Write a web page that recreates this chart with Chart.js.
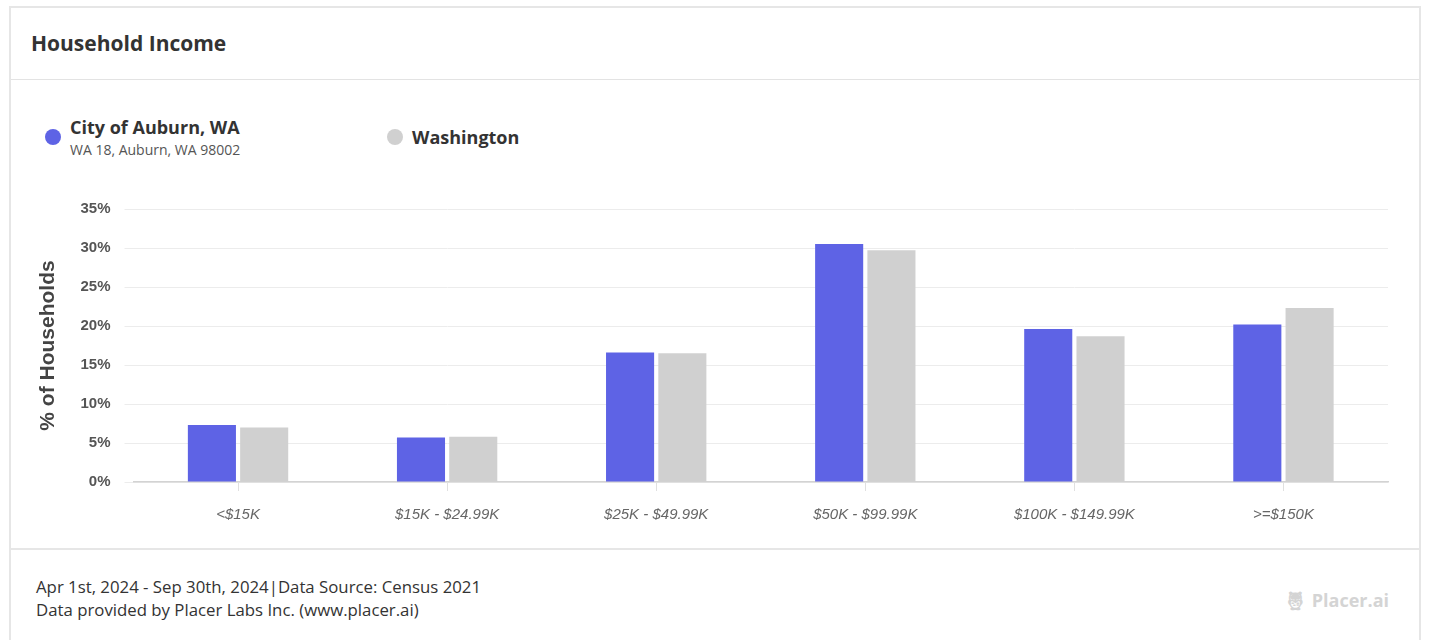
<!DOCTYPE html>
<html>
<head>
<meta charset="utf-8">
<script src="https://cdn.jsdelivr.net/npm/chart.js@4/dist/chart.umd.min.js"></script>
<style>
  body { margin: 0; background: #fff; font-family: "Open Sans", sans-serif; color: #333; }
  .card { position: absolute; left: 9px; top: 6px; width: 1412px; height: 660px; border: 2px solid #e6e6e6; box-sizing: border-box; background: #fff; }
  .head { height: 71px; border-bottom: 1px solid #e3e3e3; }
  .head h1 { margin: 0; position: absolute; left: 20px; top: 21px; font-size: 21px; font-weight: 700; color: #333; }
  .leg { position: absolute; top: 107px; font-size: 18px; font-weight: 700; color: #333; }
  .leg .dot { position: absolute; width: 16px; height: 16px; border-radius: 50%; }
  .leg .sub { font-size: 14px; font-weight: 400; color: #555; margin-top: 1px; }
  .foot { position: absolute; left: 0; right: 0; top: 540px; border-top: 2px solid #e6e6e6; }
  .foot p { margin: 0; position: absolute; left: 25px; font-size: 16.8px; color: #333; }
  .logo { position: absolute; right: 30px; top: 38px; font-size: 18px; font-weight: 700; color: #d4d4d4; }
  #wrap { position: absolute; left: 19px; top: 178px; width: 1371px; height: 353px; }
</style>
</head>
<body>
<div class="card">
  <div class="head"><h1>Household Income</h1></div>
  <div class="leg" style="left:59px;">
    <span class="dot" style="left:-25px; top:14px; background:#5e63e5;"></span>
    <div>City of Auburn, WA</div>
    <div class="sub">WA 18, Auburn, WA 98002</div>
  </div>
  <div class="leg" style="left:401px; top:117px;">
    <span class="dot" style="left:-25px; top:4px; background:#d0d0d0;"></span>
    <div>Washington</div>
  </div>
  <div id="wrap"><canvas id="myChart"></canvas></div>
  <div class="foot">
    <p style="top:25px;">Apr 1st, 2024 - Sep 30th, 2024|Data Source: Census 2021</p>
    <p style="top:48px;">Data provided by Placer Labs Inc. (www.placer.ai)</p>
    <div class="logo">&#x1F989;&#xFE0E; Placer.ai</div>
  </div>
</div>
<script>
const categories = ['<$15K', '$15K - $24.99K', '$25K - $49.99K', '$50K - $99.99K', '$100K - $149.99K', '>=$150K'];
const auburn = [7.3, 5.7, 16.6, 30.5, 19.6, 20.2];
const washington = [7.0, 5.8, 16.5, 29.7, 18.7, 22.3];
const yTicks = [0, 5, 10, 15, 20, 25, 30, 35];

const ctx = document.getElementById('myChart');

new Chart(ctx, {
  type: 'bar',
  data: {
    labels: categories,
    datasets: [{
      label: 'City of Auburn, WA',
      data: auburn,
      backgroundColor: '#5e63e5',
      categoryPercentage: 0.5,
      barPercentage: 0.92
    }, {
      label: 'Washington',
      data: washington,
      backgroundColor: '#d0d0d0',
      categoryPercentage: 0.5,
      barPercentage: 0.92
    }]
  },
  options: {
    responsive: true,
    maintainAspectRatio: false,
    animation: false,
    layout: { padding: { top: 6, right: 13, bottom: 0, left: 0 } },
    plugins: { legend: { display: false }, tooltip: { enabled: false } },
    scales: {
      x: {
        grid: { display: true, drawOnChartArea: false, offset: false, tickLength: 9, color: '#e0e0e0' },
        border: { display: true, color: '#d3d3d3', width: 1.5 },
        ticks: {
          padding: 15,
          color: '#666',
          font: { family: 'Liberation Sans', size: 15, style: 'italic' }
        }
      },
      y: {
        min: 0,
        max: 35,
        afterFit: function(axis) { axis.width = 103.5; },
        afterBuildTicks: function(axis) { axis.ticks = yTicks.map(v => ({ value: v })); },
        grid: { color: '#ececec', tickLength: 9, tickColor: '#ececec' },
        border: { display: false },
        ticks: {
          padding: 14,
          color: '#555',
          font: { family: 'Liberation Sans', size: 15, weight: 'bold' },
          callback: function(v) { return v + '%'; }
        },
        title: {
          display: true,
          text: '% of Households',
          color: '#444',
          padding: { top: 6, bottom: 6 },
          font: { family: 'Liberation Sans', size: 21, weight: 'bold' }
        }
      }
    }
  }
});
</script>
</body>
</html>
